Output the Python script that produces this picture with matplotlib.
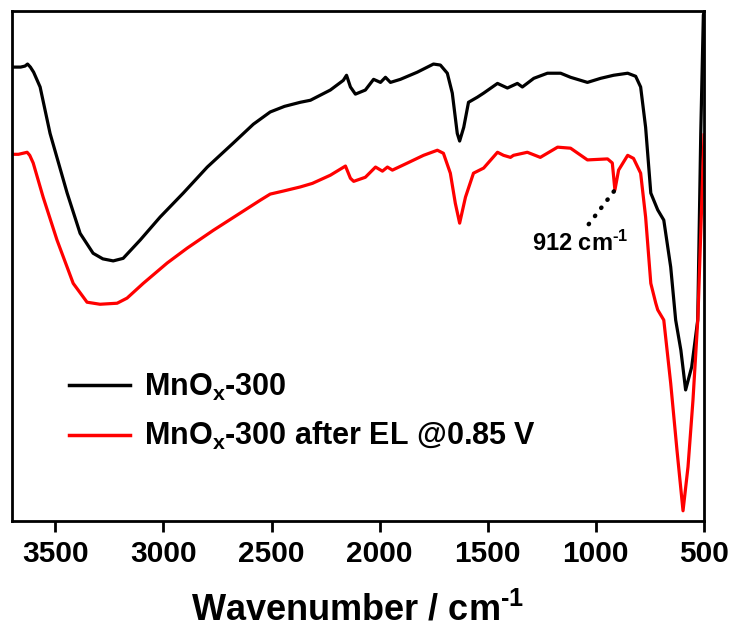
import numpy as np
import matplotlib.pyplot as plt

plt.rcParams['font.family'] = ['Liberation Sans', 'DejaVu Sans']
plt.rcParams['font.weight'] = 'bold'
plt.rcParams['mathtext.fontset'] = 'custom'
plt.rcParams['mathtext.rm'] = 'Liberation Sans:bold'
plt.rcParams['mathtext.bf'] = 'Liberation Sans:bold'
plt.rcParams['mathtext.it'] = 'Liberation Sans:bold:italic'
plt.rcParams['mathtext.default'] = 'regular'

# FTIR spectra, transmittance in arbitrary units (0 = bottom of frame, 100 = top)
wn_300 = [3700, 3680, 3660, 3640, 3628, 3615, 3600, 3570, 3524, 3445, 3385, 3325,
          3280, 3232, 3186, 3107, 3015, 2908, 2797, 2677, 2584, 2506, 2440, 2367,
          2320, 2228, 2168, 2153, 2135, 2112, 2066, 2028, 1996, 1973, 1950, 1904,
          1826, 1751, 1719, 1687, 1664, 1641, 1630, 1611, 1589, 1548, 1519, 1455,
          1409, 1363, 1340, 1287, 1224, 1163, 1117, 1039, 978, 918, 853, 816,
          793, 770, 746, 714, 686, 654, 631, 607, 585, 557, 529, 515, 503, 500]
t_300 = [89.0, 89.0, 89.0, 89.2, 89.6, 89.0, 88.0, 85.1, 76.0, 64.3, 56.4, 52.5,
         51.4, 51.0, 51.5, 55.1, 59.6, 64.3, 69.4, 74.1, 77.8, 80.2, 81.3, 82.1,
         82.5, 84.5, 86.4, 87.4, 85.1, 83.7, 84.5, 86.6, 86.0, 87.0, 86.0, 86.6,
         88.0, 89.6, 89.4, 87.8, 83.9, 76.0, 74.5, 77.2, 82.1, 83.1, 83.9, 85.8,
         84.9, 85.8, 85.1, 86.8, 87.8, 87.8, 87.0, 86.0, 86.8, 87.4, 87.8, 87.2,
         85.1, 77.2, 64.3, 61.0, 59.0, 49.8, 39.4, 33.5, 25.7, 30.2, 39.4, 76.0,
         99.2, 99.8]

wn_el = [3700, 3670, 3650, 3630, 3618, 3602, 3556, 3492, 3417, 3353, 3293, 3214,
         3168, 3093, 2982, 2890, 2769, 2644, 2552, 2506, 2445, 2367, 2311, 2228,
         2158, 2135, 2120, 2066, 2019, 1987, 1964, 1941, 1871, 1797, 1733, 1705,
         1673, 1650, 1630, 1603, 1566, 1519, 1455, 1427, 1395, 1381, 1317, 1257,
         1177, 1117, 1039, 946, 924, 912, 895, 853, 826, 793, 770, 746,
         723, 714, 686, 654, 625, 597, 574, 551, 528, 500]
t_el = [71.9, 71.9, 72.1, 72.3, 71.7, 70.2, 63.5, 55.1, 46.6, 42.9, 42.5, 42.7,
        43.7, 46.6, 50.6, 53.5, 57.0, 60.4, 62.9, 64.1, 64.7, 65.5, 66.2, 67.8,
        69.6, 67.2, 66.6, 67.4, 69.4, 68.6, 69.4, 68.8, 70.2, 71.7, 72.7, 72.1,
        68.2, 62.3, 58.4, 63.5, 68.2, 69.2, 72.3, 71.7, 71.3, 71.7, 72.3, 71.3,
        73.3, 73.1, 70.8, 71.0, 70.2, 64.9, 68.8, 71.7, 71.1, 68.2, 59.6, 46.6,
        42.7, 41.4, 39.4, 27.0, 13.9, 2.0, 10.6, 23.7, 40.0, 75.7]

peak_wn = 912
peak_t = 64.9

fig = plt.figure(figsize=(7.34, 6.32), dpi=100)
ax = fig.add_axes([12/734, 1 - 521/632, (704 - 12)/734, (521 - 11)/632])

ax.plot(wn_300, t_300, color='black', lw=2.3, label=r'MnO$_{x}$-300',
        solid_joinstyle='round')
ax.plot(wn_el, t_el, color='#ff0000', lw=2.3,
        label=r'MnO$_{x}$-300 after EL @0.85 V', solid_joinstyle='round')

# dotted leader to the 912 band
ax.plot([1033, peak_wn], [58.2, peak_t], color='black', lw=3.2,
        linestyle=(0, (0.1, 2.2)), dash_capstyle='round')
ax.text(1070, 52.9, r'%d cm$^{\text{-}1}$' % peak_wn, ha='center', va='baseline',
        fontsize=17, fontweight='bold')

ax.set_xlim(3700, 500)
ax.set_ylim(0, 100)
ax.set_xticks([3500, 3000, 2500, 2000, 1500, 1000, 500])
ax.set_yticks([])
ax.tick_params(axis='x', direction='out', length=8, width=2, labelsize=21.5, pad=6)
for lab in ax.get_xticklabels():
    lab.set_fontweight('bold')
for sp in ax.spines.values():
    sp.set_linewidth(2)
ax.set_xlabel(r'Wavenumber / cm$^{\text{-}1}$', fontsize=26, fontweight='bold',
              labelpad=17)

leg = ax.legend(loc='upper left', bbox_to_anchor=(0.06, 0.323), frameon=False,
                fontsize=22, handlelength=2.0, handletextpad=0.46, labelspacing=0.58,
                borderpad=0)
for line in leg.get_lines():
    line.set_linewidth(2.5)

fig.savefig('out.png', dpi=100, facecolor='white')
